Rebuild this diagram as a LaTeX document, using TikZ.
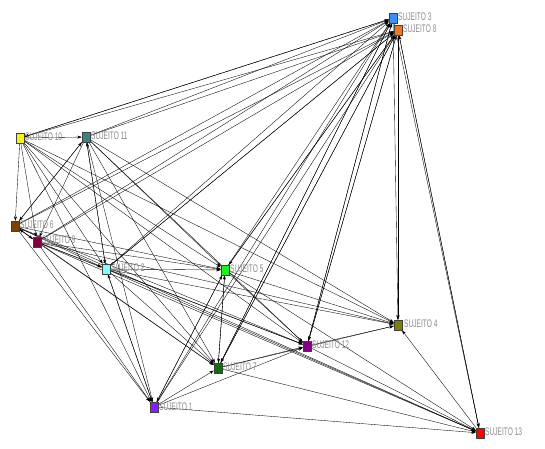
\documentclass[tikz,border=0pt]{standalone}
\usepackage{fontspec}
\setmainfont{Liberation Sans}
\newfontfamily\labfont[FakeStretch=0.6]{Liberation Sans}
\usetikzlibrary{arrows.meta}
\pgfdeclarelayer{bg}
\pgfsetlayers{bg,main}
\definecolor{c3}{HTML}{3D8FEF}
\definecolor{c8}{HTML}{F07820}
\definecolor{c10}{HTML}{F4F020}
\definecolor{c11}{HTML}{408080}
\definecolor{c6}{HTML}{804000}
\definecolor{c9}{HTML}{800040}
\definecolor{c2}{HTML}{80FFFF}
\definecolor{c5}{HTML}{20F020}
\definecolor{c4}{HTML}{808000}
\definecolor{c12}{HTML}{800080}
\definecolor{c7}{HTML}{107010}
\definecolor{c1}{HTML}{8020FF}
\definecolor{c13}{HTML}{FF0000}
\definecolor{labgray}{HTML}{8A8A8A}
\tikzset{
  sq/.style={draw=black!75, line width=0.4pt, minimum width=8pt, minimum height=10pt, inner sep=0pt},
  lab/.style={text=labgray, font=\labfont\fontsize{11}{12}\selectfont, anchor=west, inner sep=0pt},
  e/.style={-{Stealth[length=4.5pt,width=3pt]}, line width=0.35pt, black},
}
\begin{document}
\begin{tikzpicture}[x=1pt,y=-1pt]
\useasboundingbox (0,0) rectangle (545,448);
\node[sq, fill=c3] (s3) at (393,18) {};
\node[sq, fill=c8] (s8) at (398,30) {};
\node[sq, fill=c10] (s10) at (20,138) {};
\node[sq, fill=c11] (s11) at (86,137) {};
\node[sq, fill=c6] (s6) at (15,226) {};
\node[sq, fill=c9] (s9) at (37,242) {};
\node[sq, fill=c2] (s2) at (106,269) {};
\node[sq, fill=c5] (s5) at (225,270) {};
\node[sq, fill=c4] (s4) at (398,325) {};
\node[sq, fill=c12] (s12) at (307,346) {};
\node[sq, fill=c7] (s7) at (218,368) {};
\node[sq, fill=c1] (s1) at (154,407) {};
\node[sq, fill=c13] (s13) at (480,433) {};
\node[lab] (l3) at (398,17) {SUJEITO 3};
\node[lab] (l8) at (403,29) {SUJEITO 8};
\node[lab] (l10) at (25,137) {SUJEITO 10};
\node[lab] (l11) at (91,136) {SUJEITO 11};
\node[lab] (l6) at (20,225) {SUJEITO 6};
\node[lab] (l9) at (42,240) {SUJEITO 9};
\node[lab] (l2) at (111,268) {SUJEITO 2};
\node[lab] (l5) at (230,269) {SUJEITO 5};
\node[lab] (l4) at (404,324) {SUJEITO 4};
\node[lab] (l12) at (312,345) {SUJEITO 12};
\node[lab] (l7) at (223,367) {SUJEITO 7};
\node[lab] (l1) at (159,407) {SUJEITO 1};
\node[lab] (l13) at (485,432) {SUJEITO 13};
\begin{pgfonlayer}{bg}
\foreach \a/\b in {
 s10/s11, s10/s6, s10/s9, s10/s2, s10/s5, s10/s7, s10/s1, s10/s12, s10/s4, s10/s3,
 s11/s6, s11/s9, s11/s2, s11/s5, s11/s7, s11/s12, s11/s4, s11/s1, s11/s3, s11/s8,
 s6/s9, s6/s2, s6/s5, s6/s7, s6/s1, s6/s12, s6/s13, s6/s3, s6/s11, s6/s8,
 s9/s2, s9/s5, s9/s12, s9/s4, s9/s13, s9/s7, s9/s1, s9/s3, s9/s8, s9/s6,
 s2/s5, s2/s12, s2/s4, s2/s13, s2/s7, s2/s1, s2/s3, s2/s11, s2/s8,
 s5/s7, s5/s12, s5/s4, s5/s1, s5/s3, s5/s13, s5/s8,
 s7/s12, s7/s4, s7/s13, s7/s3, s7/s5, s7/s8,
 s1/s7, s1/s12, s1/s13, s1/s3, s1/s2, s1/s5, s1/s8,
 s12/s4, s12/s13, s12/s3, s12/s8,
 s13/s4, s13/s8,
 s8/s4, s8/s13, s8/s12, s8/s5, s8/s7, s8/s2, s8/s10,
 s3/s12, s3/s7, s3/s10, s3/s4, s3/s13}
 { \draw[e] (\a) -- (\b); }
\end{pgfonlayer}
\end{tikzpicture}
\end{document}
